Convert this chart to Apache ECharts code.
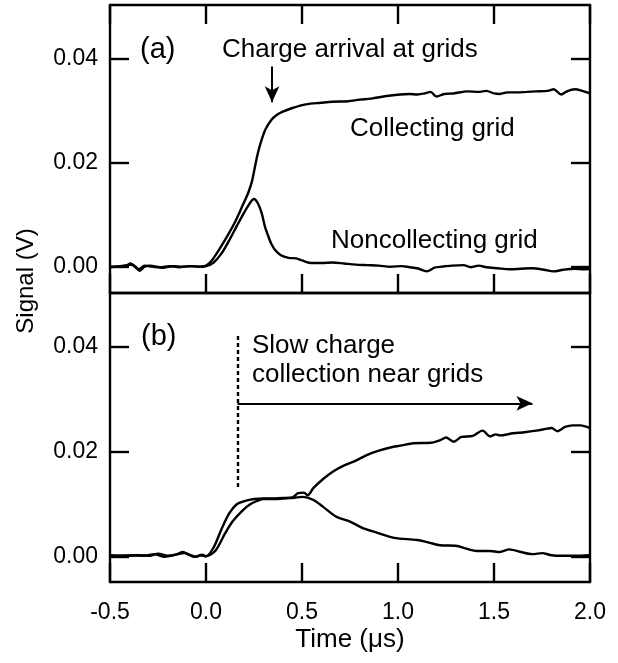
<!DOCTYPE html>
<html>
<head>
<meta charset="utf-8">
<script src="https://cdn.jsdelivr.net/npm/echarts@6/dist/echarts.min.js"></script>
<style>
  html, body { margin: 0; padding: 0; background: #fff; }
  #main { width: 618px; height: 663px; }
</style>
</head>
<body>
<div id="main"></div>
<script>
// x axis ticks (us) and y tick labels (V)
var timeTicks = [-0.5, 0.0, 0.5, 1.0, 1.5, 2.0];
var signalTicks = [0, 0.02, 0.04];

// panel (a) : [time, signal]
var aCollecting = [
    [-0.5, 0.0], [-0.45, 0.0001], [-0.41, 0.0003], [-0.395, 0.0006], [-0.37, 0.0001], [-0.35, -0.0005],
    [-0.32, 0.0002], [-0.28, 0.0], [-0.22, -0.0002], [-0.17, 0.0001], [-0.12, 0.0], [-0.07, 0.0001],
    [-0.03, 0.0], [0.0, 0.0002], [0.03, 0.0012], [0.06, 0.0028], [0.1, 0.0052], [0.15, 0.0085],
    [0.19, 0.0117], [0.22, 0.0142], [0.24, 0.0165], [0.255, 0.0192], [0.27, 0.0218], [0.29, 0.0244],
    [0.31, 0.0264], [0.34, 0.0282], [0.37, 0.0292], [0.4, 0.0298], [0.45, 0.0305], [0.52, 0.0312],
    [0.6, 0.0315], [0.66, 0.0317], [0.74, 0.0318], [0.8, 0.0321], [0.86, 0.0323], [0.94, 0.0328],
    [1.01, 0.0331], [1.06, 0.0332], [1.1, 0.0331], [1.14, 0.0333], [1.17, 0.0336], [1.2, 0.0327],
    [1.24, 0.0332], [1.29, 0.0333], [1.36, 0.0337], [1.42, 0.0336], [1.46, 0.0338], [1.5, 0.0333],
    [1.53, 0.0332], [1.57, 0.0335], [1.62, 0.0335], [1.67, 0.0336], [1.72, 0.0337], [1.78, 0.0338],
    [1.81, 0.0341], [1.85, 0.0331], [1.88, 0.0337], [1.92, 0.0341], [1.96, 0.0338], [2.0, 0.0333]
];
var aNoncollecting = [
    [-0.5, -0.0001], [-0.46, 0.0], [-0.42, 0.0002], [-0.39, 0.0004], [-0.365, -0.0002], [-0.345, -0.0008],
    [-0.32, 0.0], [-0.29, 0.0002], [-0.24, -0.0001], [-0.19, 0.0001], [-0.14, -0.0001], [-0.09, 0.0001],
    [-0.04, 0.0], [0.0, 0.0001], [0.04, 0.0008], [0.08, 0.0025], [0.12, 0.005], [0.16, 0.0078],
    [0.2, 0.0105], [0.23, 0.0123], [0.25, 0.013], [0.27, 0.0122], [0.29, 0.0103], [0.307, 0.0077],
    [0.325, 0.0058], [0.34, 0.0044], [0.36, 0.0032], [0.39, 0.0022], [0.43, 0.0017], [0.47, 0.0016],
    [0.5, 0.0012], [0.55, 0.0007], [0.6, 0.0007], [0.66, 0.0008], [0.72, 0.0006], [0.78, 0.0004],
    [0.84, 0.0003], [0.9, 0.0002], [0.96, 0.0], [1.02, 0.0001], [1.06, -0.0001], [1.1, -0.0003],
    [1.15, -0.0009], [1.19, -0.0002], [1.23, 0.0], [1.28, 0.0002], [1.34, 0.0003], [1.38, -0.0001],
    [1.42, 0.0002], [1.46, -0.0001], [1.52, -0.0003], [1.58, -0.0005], [1.64, -0.0004], [1.7, -0.0003],
    [1.76, -0.0006], [1.81, -0.0009], [1.86, -0.0006], [1.92, -0.0004], [1.97, -0.0005], [2.0, -0.0004]
];

// panel (b) : [time, signal]
var bCollecting = [
    [-0.5, 0.0002], [-0.44, 0.0002], [-0.38, 0.0003], [-0.32, 0.0002], [-0.27, 0.0005], [-0.22, 0.0],
    [-0.17, 0.0003], [-0.11, 0.0007], [-0.08, 0.0003], [-0.05, 0.0], [-0.02, 0.0004], [0.0, 0.0001],
    [0.05, 0.0012], [0.1, 0.0045], [0.14, 0.0068], [0.19, 0.0088], [0.23, 0.01], [0.27, 0.0107],
    [0.3, 0.011], [0.35, 0.011], [0.4, 0.0111], [0.45, 0.0113], [0.48, 0.0121], [0.51, 0.0122],
    [0.53, 0.0117], [0.56, 0.0131], [0.61, 0.0148], [0.66, 0.0162], [0.72, 0.0174], [0.78, 0.0183],
    [0.84, 0.0194], [0.9, 0.0202], [0.96, 0.0208], [1.02, 0.0212], [1.08, 0.0216], [1.17, 0.0217],
    [1.22, 0.0222], [1.25, 0.0227], [1.29, 0.0219], [1.33, 0.0228], [1.39, 0.023], [1.44, 0.024],
    [1.48, 0.0229], [1.51, 0.0233], [1.53, 0.0231], [1.6, 0.0235], [1.66, 0.0237], [1.72, 0.024],
    [1.78, 0.0244], [1.8, 0.0245], [1.83, 0.0239], [1.87, 0.0247], [1.91, 0.025], [1.95, 0.025], [2.0, 0.0245]
];
var bNoncollecting = [
    [-0.5, 0.0003], [-0.45, 0.0002], [-0.4, 0.0002], [-0.35, 0.0003], [-0.29, 0.0002], [-0.25, 0.0006],
    [-0.2, 0.0002], [-0.15, 0.0005], [-0.12, 0.0009], [-0.09, 0.0004], [-0.06, 0.0], [-0.03, 0.0003],
    [0.0, 0.0001], [0.04, 0.0018], [0.08, 0.0052], [0.12, 0.0082], [0.16, 0.01], [0.2, 0.0106],
    [0.25, 0.011], [0.3, 0.0111], [0.35, 0.0111], [0.4, 0.0112], [0.45, 0.0112], [0.5, 0.0114],
    [0.56, 0.0108], [0.61, 0.0095], [0.68, 0.0076], [0.75, 0.0067], [0.82, 0.0054], [0.89, 0.0046],
    [0.98, 0.0036], [1.1, 0.0032], [1.16, 0.0027], [1.22, 0.0022], [1.3, 0.0021], [1.36, 0.0015],
    [1.41, 0.0011], [1.48, 0.0011], [1.53, 0.0009], [1.58, 0.0014], [1.64, 0.0009], [1.7, 0.0005],
    [1.75, 0.0007], [1.8, 0.0003], [1.85, 0.0002], [1.92, 0.0002], [2.0, 0.0003]
];

var FONT = '"Liberation Sans", Arial, Helvetica, sans-serif';
var LW = 2.4;

var myChart = echarts.init(document.getElementById('main'));

function xAx(grid, pos, ticks, labels) {
    return {
        type: 'value', gridIndex: grid, position: pos,
        min: timeTicks[0], max: timeTicks[timeTicks.length - 1], interval: 0.5,
        axisLine: { show: true, onZero: false, lineStyle: { color: '#000', width: LW } },
        axisTick: { show: ticks, inside: true, length: 19, lineStyle: { color: '#000', width: LW } },
        axisLabel: {
            show: labels, margin: 19, color: '#000', fontSize: 23, fontFamily: FONT,
            formatter: function (v) { return v.toFixed(1); }
        },
        splitLine: { show: false }
    };
}

function yAx(grid, pos, labels, ymin, ymax) {
    return {
        type: 'value', gridIndex: grid, position: pos,
        min: ymin, max: ymax,
        axisLine: { show: true, onZero: false, lineStyle: { color: '#000', width: LW } },
        axisTick: { show: true, inside: true, length: 19, customValues: signalTicks,
            lineStyle: { color: '#000', width: LW } },
        axisLabel: {
            show: labels, margin: 12, color: '#000', fontSize: 23, fontFamily: FONT,
            customValues: signalTicks,
            formatter: function (v) { return v.toFixed(2); }
        },
        splitLine: { show: false }
    };
}

// bottom axis of panel (b) carries labels and name
var xa = xAx(1, 'bottom', true, true);
xa.name = 'Time (\u03bcs)';
xa.nameLocation = 'middle';
xa.nameGap = 45;
xa.nameTextStyle = { color: '#000', fontSize: 26, fontFamily: FONT };

function lineSeries(name, xi, yi, data) {
    return {
        name: name, type: 'line', xAxisIndex: xi, yAxisIndex: yi,
        data: data, showSymbol: false, smooth: 0.3, silent: true,
        lineStyle: { color: '#000', width: LW }
    };
}

var s1 = lineSeries('Collecting grid', 0, 0, aCollecting);
s1.markLine = {
    silent: true, symbol: ['none', 'arrow'], symbolSize: [11, 16],
    label: { show: false },
    lineStyle: { color: '#000', width: 2, type: 'solid' },
    data: [[{ coord: [0.344, 0.0385] }, { coord: [0.344, 0.0316] }]]
};
var s3 = lineSeries('Collecting grid', 2, 2, bCollecting);
s3.markLine = {
    silent: true, symbol: ['none', 'arrow'], symbolSize: [11, 16],
    label: { show: false },
    lineStyle: { color: '#000', width: 2, type: 'solid' },
    data: [
        [{ coord: [0.164, 0.0292] }, { coord: [1.7, 0.0292] }],
        [{ coord: [0.164, 0.042], symbol: 'none', lineStyle: { type: [4, 3], width: 2.4 } },
         { coord: [0.164, 0.013], symbol: 'none' }]
    ]
};

var option = {
    animation: false,
    backgroundColor: '#fff',
    grid: [
        { left: 110, top: 5, width: 480, height: 288 },
        { left: 110, top: 293, width: 480, height: 289 }
    ],
    xAxis: [
        xAx(0, 'bottom', true, false),
        xAx(0, 'top', true, false),
        xa,
        xAx(1, 'top', false, false)
    ],
    yAxis: [
        yAx(0, 'left', true, -0.00506, 0.0503),
        yAx(0, 'right', false, -0.00506, 0.0503),
        yAx(1, 'left', true, -0.0048, 0.0502),
        yAx(1, 'right', false, -0.0048, 0.0502)
    ],
    series: [
        s1,
        lineSeries('Noncollecting grid', 0, 0, aNoncollecting),
        s3,
        lineSeries('Noncollecting grid', 2, 2, bNoncollecting)
    ],
    graphic: [
        { type: 'text', x: 26, y: 281, rotation: Math.PI / 2,
          style: { text: 'Signal (V)', fill: '#000', font: '24px ' + FONT, align: 'center', verticalAlign: 'middle' } },
        { type: 'text', x: 140, y: 50,
          style: { text: '(a)', fill: '#000', font: '29px ' + FONT, verticalAlign: 'middle' } },
        { type: 'text', x: 222, y: 50,
          style: { text: 'Charge arrival at grids', fill: '#000', font: '26px ' + FONT, verticalAlign: 'middle' } },
        { type: 'text', x: 350, y: 128.5,
          style: { text: 'Collecting grid', fill: '#000', font: '26px ' + FONT, verticalAlign: 'middle' } },
        { type: 'text', x: 331, y: 241,
          style: { text: 'Noncollecting grid', fill: '#000', font: '26px ' + FONT, verticalAlign: 'middle' } },
        { type: 'text', x: 141, y: 337,
          style: { text: '(b)', fill: '#000', font: '29px ' + FONT, verticalAlign: 'middle' } },
        { type: 'text', x: 252, y: 346,
          style: { text: 'Slow charge', fill: '#000', font: '26px ' + FONT, verticalAlign: 'middle' } },
        { type: 'text', x: 252, y: 375,
          style: { text: 'collection near grids', fill: '#000', font: '26px ' + FONT, verticalAlign: 'middle' } }
    ]
};

myChart.setOption(option);
</script>
</body>
</html>
